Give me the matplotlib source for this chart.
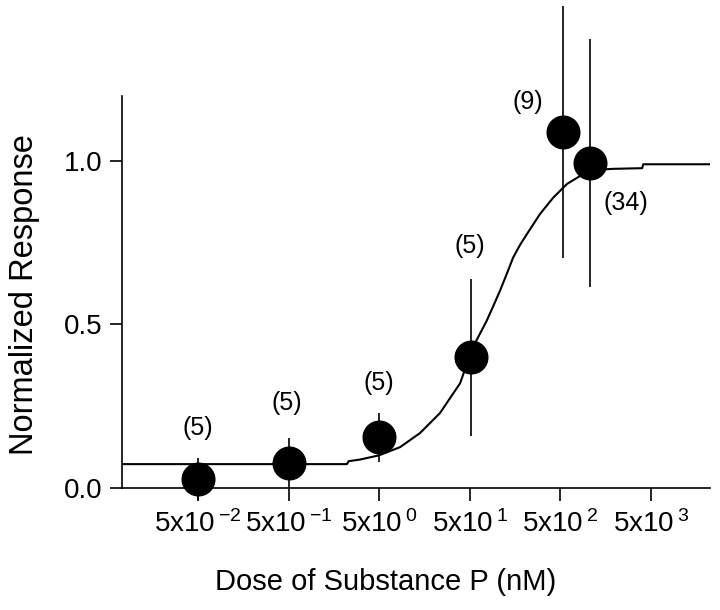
import matplotlib
matplotlib.use("Agg")
import matplotlib.pyplot as plt
from matplotlib.ticker import FixedLocator, NullLocator, FixedFormatter

plt.rcParams['font.family'] = ['Liberation Sans', 'DejaVu Sans']
plt.rcParams['mathtext.fontset'] = 'custom'
plt.rcParams['mathtext.rm'] = 'Liberation Sans'
plt.rcParams['mathtext.it'] = 'Liberation Sans:italic'
plt.rcParams['mathtext.bf'] = 'Liberation Sans:bold'

# ---- data ----
dose = [0.05, 0.5, 5, 52, 540, 1050]          # nM
response = [0.027, 0.076, 0.155, 0.40, 1.088, 0.994]
sem = [0.065, 0.078, 0.075, 0.24, 0.385, 0.38]
n_cells = ["(5)", "(5)", "(5)", "(5)", "(9)", "(34)"]

curve_x = [0.0072, 2.2, 2.3, 3.07, 5.0, 8.5, 14.1, 23.4, 39, 54, 77, 92, 108,
           128, 150, 178, 214, 298, 414, 592, 823, 1145, 1900, 4000, 4100, 22400]
curve_y = [0.073, 0.073, 0.082, 0.087, 0.10, 0.125, 0.168, 0.229, 0.32, 0.43,
           0.512, 0.56, 0.604, 0.655, 0.704, 0.742, 0.777, 0.838, 0.887, 0.93,
           0.954, 0.972, 0.976, 0.978, 0.99, 0.99]

xtick_vals = [5e-2, 5e-1, 5e0, 5e1, 5e2, 5e3]
xtick_labels = [r'$\mathregular{5x10\,^{-2}}$', r'$\mathregular{5x10\,^{-1}}$',
                r'$\mathregular{5x10\,^{0}}$', r'$\mathregular{5x10\,^{1}}$',
                r'$\mathregular{5x10\,^{2}}$', r'$\mathregular{5x10\,^{3}}$']
ytick_vals = [0.0, 0.5, 1.0]
ytick_labels = ["0.0", "0.5", "1.0"]

# label offsets (points) relative to each marker
label_offsets = [(0, 37), (-1, 43), (0, 39), (-1, 80), (-26, 22), (26, -29)]

fig = plt.figure(figsize=(7.2, 6.1), dpi=100)
ax = fig.add_axes([122/720, 0.2, (710-122)/720, 0.8433-0.2])

ax.set_xscale('log')
ax.set_xlim(0.00724, 22400)
ax.set_ylim(0, 1.2)

ax.plot(curve_x, curve_y, color='black', lw=1.5, zorder=2, solid_joinstyle='round')
ax.errorbar(dose, response, yerr=sem, fmt='none', ecolor='black', elinewidth=1.2,
            capsize=0, zorder=3, clip_on=False)
ax.plot(dose, response, 'o', color='black', markersize=23.5, zorder=4, clip_on=False)

for x, y, t, off in zip(dose, response, n_cells, label_offsets):
    ax.annotate(t, (x, y), xytext=off, textcoords='offset points',
                ha='center', va='center', fontsize=18)

for s in ['top', 'right']:
    ax.spines[s].set_visible(False)
for s in ['left', 'bottom']:
    ax.spines[s].set_linewidth(1.2)

ax.xaxis.set_major_locator(FixedLocator(xtick_vals))
ax.xaxis.set_major_formatter(FixedFormatter(xtick_labels))
ax.xaxis.set_minor_locator(NullLocator())
ax.set_yticks(ytick_vals)
ax.set_yticklabels(ytick_labels)
ax.tick_params(axis='both', direction='out', length=9, width=1.2, labelsize=20)
ax.tick_params(axis='x', pad=7)
ax.tick_params(axis='y', pad=5)

ax.set_xlabel('Dose of Substance P (nM)', fontsize=21)
ax.xaxis.set_label_coords(0.449, -0.205)
ax.set_ylabel('Normalized Response', fontsize=23.5)
ax.yaxis.set_label_coords(-0.139, 0.492)

fig.savefig('out.png', dpi=100)
